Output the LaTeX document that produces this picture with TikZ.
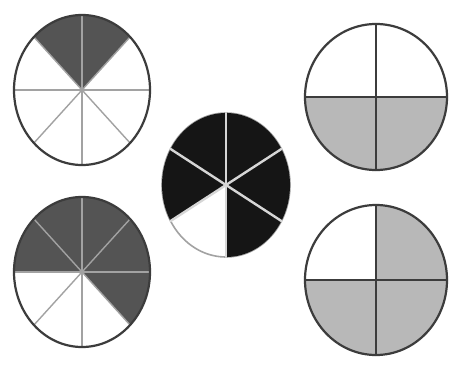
\documentclass[tikz,border=0pt]{standalone}
\usepackage{xcolor}
\usepackage{tikz}
\definecolor{pieInk}{HTML}{3C3C3C}
\definecolor{pieDark}{HTML}{545454}
\definecolor{pieBlack}{HTML}{151515}
\definecolor{pieLight}{HTML}{B8B8B8}
\definecolor{pieRule}{HTML}{A2A2A2}
\definecolor{pieSpoke}{HTML}{D6D6D6}
\tikzset{
  pie diagram/.style={x=1pt, y=1pt, line cap=round, line join=round},
  pie rim/.style={draw=pieInk, line width=2.2pt},
  pie soft rim/.style={draw=pieRule, line width=1.6pt},
  pie rule/.style={draw=pieRule, line width=1.4pt},
  pie spoke/.style={draw=pieSpoke, line width=2.4pt},
  pie cross/.style={draw=pieInk, line width=2pt}
}

\begin{document}
\begin{tikzpicture}[pie diagram]
\fill[white] (0,0) rectangle (470,367);
\useasboundingbox (0,0) rectangle (470,367);

\coordinate (eighthtop) at (82,277);
\coordinate (eighthlow) at (82,95);
\coordinate (sixth) at (226,182);
\coordinate (quartertop) at (376,270);
\coordinate (quarterlow) at (376,87);

% top left: 2 of 8
\begin{scope}[shift={(eighthtop)}]
  \foreach \a in {45,90}
    \fill[pieDark] (0,0) -- (\a:68 and 75) arc[start angle=\a, end angle=\a+45, x radius=68, y radius=75] -- cycle;
  \foreach \a in {0,45,...,315}
    \draw[pie rule] (0,0) -- (\a:68 and 75);
  \draw[pie rim] (0,0) ellipse[x radius=68, y radius=75];
\end{scope}

% bottom left: 5 of 8
\begin{scope}[shift={(eighthlow)}]
  \foreach \a in {-45,0,45,90,135}
    \fill[pieDark] (0,0) -- (\a:68 and 75) arc[start angle=\a, end angle=\a+45, x radius=68, y radius=75] -- cycle;
  \foreach \a in {0,45,...,315}
    \draw[pie rule] (0,0) -- (\a:68 and 75);
  \draw[pie rim] (0,0) ellipse[x radius=68, y radius=75];
\end{scope}

% centre: 5 of 6
\begin{scope}[shift={(sixth)}]
  \draw[pie soft rim] (0,0) ellipse[x radius=64, y radius=72];
  \foreach \a in {-90,-30,30,90,150}
    \fill[pieBlack] (0,0) -- (\a:64 and 72) arc[start angle=\a, end angle=\a+60, x radius=64, y radius=72] -- cycle;
  \foreach \a in {30,90,...,330}
    \draw[pie spoke] (0,0) -- (\a:64 and 72);
\end{scope}

% top right: 2 of 4
\begin{scope}[shift={(quartertop)}]
  \fill[pieLight] (0:71 and 73) arc[start angle=0, end angle=-180, x radius=71, y radius=73] -- cycle;
  \foreach \a in {0,90,180,270}
    \draw[pie cross] (0,0) -- (\a:71 and 73);
  \draw[pie rim] (0,0) ellipse[x radius=71, y radius=73];
\end{scope}

% bottom right: 3 of 4
\begin{scope}[shift={(quarterlow)}]
  \fill[pieLight] (0,0) -- (90:71 and 75) arc[start angle=90, end angle=-180, x radius=71, y radius=75] -- cycle;
  \foreach \a in {0,90,180,270}
    \draw[pie cross] (0,0) -- (\a:71 and 75);
  \draw[pie rim] (0,0) ellipse[x radius=71, y radius=75];
\end{scope}
\end{tikzpicture}
\end{document}
